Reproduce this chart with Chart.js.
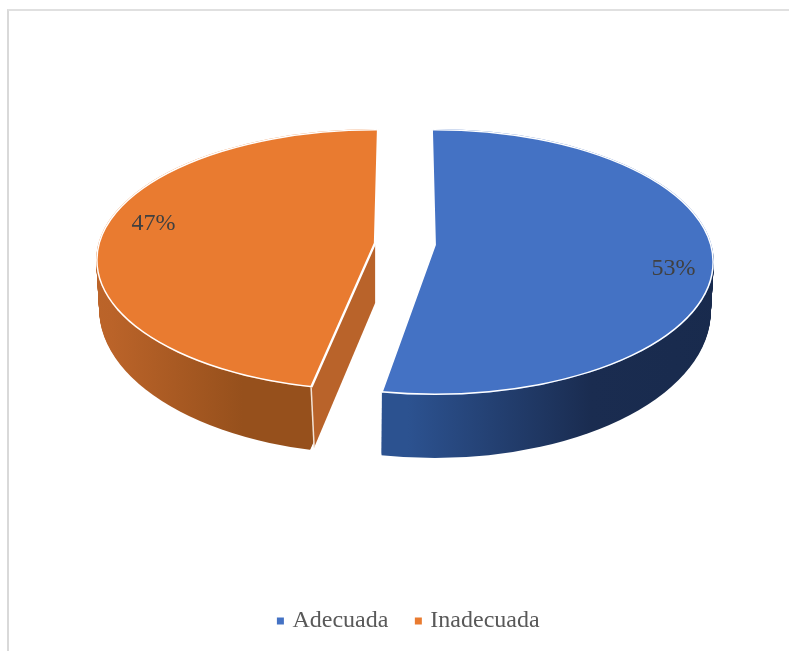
<!DOCTYPE html>
<html>
<head>
<meta charset="utf-8">
<script src="https://cdn.jsdelivr.net/npm/chart.js@4"></script>
<style>
    html, body { margin: 0; padding: 0; background: #fff; overflow: hidden; }
    #frame { position: absolute; left: 7px; top: 9px; right: -5px; bottom: -5px; border-left: 2px solid #d9d9d9; border-top: 2px solid #e0e0e0; }
    canvas { position: absolute; left: 0; top: 0; }
</style>
</head>
<body>
<div id="frame"></div>
<canvas id="pieChart" width="789" height="651"></canvas>
<script>
const categories = ['Adecuada', 'Inadecuada'];
const values = [53, 47];
const sliceColors = ['#4472c4', '#e97b30'];
const sideStops = [
    [[0.41, '#2c5290'], [0.72, '#1a2c50'], [1, '#182a4c']],
    [[0, '#c66c2b'], [0.2, '#ba6329'], [0.38, '#96501c']]
];
const cutColors = [null, '#b9632a'];
const labelNudges = [[8, 12], [9, -10]];

// fake 3D: the apex sits behind the middle of the disc, each slice keeps its own outline
const centerX = 405;
const centerY = 244;
const ratioBack = 0.44;
const ratioFront = 0.56;
const stretch = [1.06, 1.3];
const backShear = [0.026, -0.027];
const discY = [262, 260];
const discRy = [133, 131];
const explode = 30;
const depth = 60;
const labelRadius = 0.83;

const pie3d = {
    id: 'pie3d',
    beforeDatasetsDraw: (chart) => {
        const ctx = chart.ctx;
        const arcs = chart.getDatasetMeta(0).data;

        const sliceCenter = (arc) => {
            const mid = (arc.startAngle + arc.endAngle) / 2;
            return {
                x: centerX + Math.cos(mid) * explode,
                y: Math.round(centerY + Math.sin(mid) * explode * 0.415)
            };
        };

        // outline of a slice at t, 0 is the top face and 1 the bottom of the side wall
        const discAt = (arc, i, t) => ({
            x: sliceCenter(arc).x,
            y: discY[i] + 49 * t,
            rx: arc.outerRadius - 3 * t,
            ry: discRy[i] + 14 * t
        });

        // runs draw inside the disc outline, on the back or the front half of a slice
        const onHalf = (arc, i, front, t, draw) => {
            const c = sliceCenter(arc);
            const d = discAt(arc, i, t);
            const shift = Math.round(depth * t);
            ctx.save();
            ctx.beginPath();
            ctx.ellipse(d.x, d.y, d.rx, d.ry, 0, 0, Math.PI * 2);
            ctx.clip();
            ctx.beginPath();
            if (front) ctx.rect(0, c.y + shift, chart.width, chart.height);
            else ctx.rect(0, 0, chart.width, c.y + shift);
            ctx.clip();
            ctx.translate(c.x, c.y + shift);
            if (!front) ctx.transform(1, 0, backShear[i], 1, 0, 0);
            ctx.scale(stretch[i], front ? ratioFront : ratioBack);
            ctx.translate(-arc.x, -arc.y);
            draw();
            ctx.restore();
        };

        const slicePath = (arc) => {
            ctx.beginPath();
            ctx.moveTo(arc.x, arc.y);
            ctx.arc(arc.x, arc.y, arc.outerRadius, arc.startAngle, arc.endAngle);
            ctx.closePath();
        };

        // where the straight front edge of a slice meets the disc outline
        const rimPoint = (arc, i) => {
            const angle = Math.sin(arc.startAngle) > 0 ? arc.startAngle : arc.endAngle;
            const c = sliceCenter(arc);
            const d = discAt(arc, i, 0);
            const dx = Math.cos(angle) * stretch[i] / d.rx;
            const dy = Math.sin(angle) * ratioFront / d.ry;
            const y0 = (c.y - d.y) / d.ry;
            const a = dx * dx + dy * dy;
            const b = 2 * y0 * dy;
            const k = (-b + Math.sqrt(b * b - 4 * a * (y0 * y0 - 1))) / (2 * a);
            return { x: c.x + Math.cos(angle) * stretch[i] * k, y: c.y + Math.sin(angle) * ratioFront * k };
        };

        arcs.forEach((arc, i) => {
            const c = sliceCenter(arc);
            const rim = rimPoint(arc, i);
            const sideFill = ctx.createLinearGradient(c.x - arc.outerRadius, 0, c.x + arc.outerRadius, 0);
            sideStops[i].forEach((s) => sideFill.addColorStop(s[0], s[1]));
            // the side wall stops straight under the front edge
            ctx.save();
            ctx.beginPath();
            if (cutColors[i]) ctx.rect(0, 0, rim.x + 3, chart.height);
            else ctx.rect(rim.x, 0, chart.width, chart.height);
            ctx.clip();
            for (let step = depth; step > 0; step--) {
                onHalf(arc, i, true, step / depth, () => {
                    slicePath(arc);
                    ctx.fillStyle = sideFill;
                    ctx.fill();
                });
            }
            ctx.restore();
            if (cutColors[i]) {
                ctx.beginPath();
                ctx.moveTo(c.x, c.y);
                ctx.lineTo(rim.x, rim.y);
                ctx.lineTo(rim.x + 3, rim.y + depth);
                ctx.lineTo(c.x, c.y + depth);
                ctx.closePath();
                ctx.fillStyle = cutColors[i];
                ctx.fill();
                ctx.beginPath();
                ctx.moveTo(rim.x, rim.y);
                ctx.lineTo(rim.x + 3, rim.y + depth);
                ctx.strokeStyle = '#f3e3d6';
                ctx.lineWidth = 1.5;
                ctx.stroke();
            }
        });

        arcs.forEach((arc, i) => {
            [false, true].forEach((front) => {
                onHalf(arc, i, front, 0, () => arc.draw(ctx));
                // white rim between the top face and the side wall
                onHalf(arc, i, front, 0, () => {
                    slicePath(arc);
                    ctx.clip();
                    ctx.resetTransform();
                    const d = discAt(arc, i, 0);
                    ctx.beginPath();
                    ctx.ellipse(d.x, d.y, d.rx, d.ry, 0, 0, Math.PI * 2);
                    ctx.strokeStyle = '#ffffff';
                    ctx.lineWidth = 3;
                    ctx.stroke();
                });
            });
        });

        ctx.save();
        ctx.font = '24px "Liberation Serif"';
        ctx.fillStyle = '#404040';
        ctx.textAlign = 'center';
        ctx.textBaseline = 'middle';
        arcs.forEach((arc, i) => {
            const c = sliceCenter(arc);
            const mid = (arc.startAngle + arc.endAngle) / 2;
            const ratio = Math.sin(mid) > 0 ? 0.53 : 0.415;
            const x = c.x + Math.cos(mid) * arc.outerRadius * labelRadius + labelNudges[i][0];
            const y = c.y + Math.sin(mid) * arc.outerRadius * labelRadius * ratio + labelNudges[i][1];
            ctx.fillText(values[i] + '%', x, y);
        });
        ctx.restore();
        return false;
    }
};

new Chart(document.getElementById('pieChart').getContext('2d'), {
    type: 'pie',
    data: {
        labels: categories,
        datasets: [{
            data: values,
            backgroundColor: sliceColors,
            borderColor: '#ffffff',
            borderWidth: 2
        }]
    },
    options: {
        responsive: false,
        animation: false,
        radius: 279,
        layout: { padding: { left: 31, bottom: 8 } },
        plugins: {
            tooltip: { enabled: false },
            legend: {
                position: 'bottom',
                labels: {
                    usePointStyle: true,
                    pointStyle: 'rect',
                    boxWidth: 0.01,
                    boxHeight: 7,
                    padding: 30,
                    color: '#595959',
                    font: { family: '"Liberation Serif"', size: 24 },
                    generateLabels: (chart) => Chart.overrides.pie.plugins.legend.labels.generateLabels(chart)
                        .map((item) => ({ ...item, lineWidth: 0 }))
                }
            }
        }
    },
    plugins: [pie3d]
});
</script>
</body>
</html>
